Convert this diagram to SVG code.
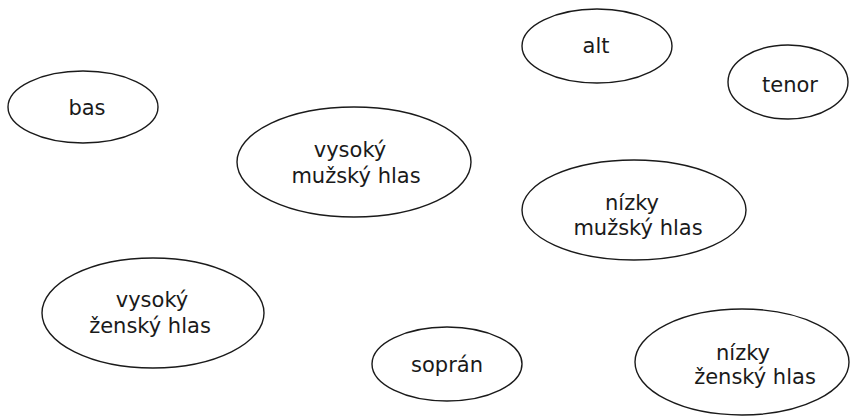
<svg xmlns="http://www.w3.org/2000/svg" width="850" height="417" viewBox="0 0 850 417">
<style>
.n ellipse{fill:#fff;stroke:#1a1a1a;stroke-width:1.4}
.n text{font-family:"DejaVu Sans","Liberation Sans",sans-serif;font-size:21px;fill:#1a1a1a;text-anchor:middle}
</style>
<rect width="850" height="417" fill="#fff"/>
<g id="connectors"></g>
<g id="bas" class="n"><ellipse cx="83" cy="107" rx="75" ry="36"/><text x="87" y="115">bas</text></g>
<g id="alt" class="n"><ellipse cx="597" cy="46" rx="75" ry="37"/><text x="596" y="53">alt</text></g>
<g id="tenor" class="n"><ellipse cx="788" cy="82" rx="60" ry="37"/><text x="790" y="92">tenor</text></g>
<g id="vysoky-muzsky" class="n"><ellipse cx="354" cy="162" rx="117" ry="55"/><text x="350" y="157">vysoký</text><text x="356" y="183">mužský hlas</text></g>
<g id="nizky-muzsky" class="n"><ellipse cx="634" cy="210" rx="112" ry="50"/><text x="632" y="210">nízky</text><text x="638" y="235">mužský hlas</text></g>
<g id="vysoky-zensky" class="n"><ellipse cx="153" cy="313" rx="111" ry="55"/><text x="152" y="307">vysoký</text><text x="150" y="333">ženský hlas</text></g>
<g id="sopran" class="n"><ellipse cx="447" cy="364" rx="75" ry="37"/><text x="447" y="372">soprán</text></g>
<g id="nizky-zensky" class="n"><ellipse cx="742" cy="362" rx="107" ry="53"/><text x="743" y="360">nízky</text><text x="755" y="384">ženský hlas</text></g>
</svg>
